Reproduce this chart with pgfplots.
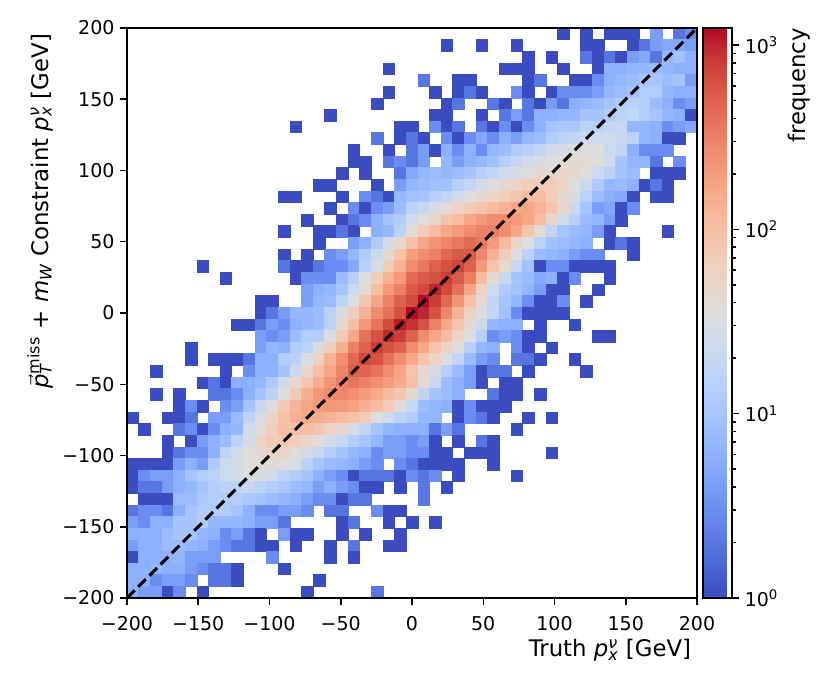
\documentclass[border=0pt]{standalone}
\usepackage{pgfplots}
\pgfplotsset{compat=1.18}
\usepackage{pgfplotstable}
\usepackage{fontspec}
\setmainfont{DejaVu Sans}
\pgfplotsset{colormap={coolwarm}{rgb255=(59,76,192) rgb255=(68,90,204) rgb255=(77,104,215) rgb255=(87,117,225) rgb255=(98,130,234) rgb255=(108,142,241) rgb255=(119,154,247) rgb255=(130,165,251) rgb255=(141,176,254) rgb255=(152,185,255) rgb255=(163,194,255) rgb255=(174,201,253) rgb255=(184,208,249) rgb255=(194,213,244) rgb255=(204,217,238) rgb255=(213,219,230) rgb255=(221,221,221) rgb255=(229,216,209) rgb255=(236,211,197) rgb255=(241,204,185) rgb255=(245,196,173) rgb255=(247,187,160) rgb255=(247,177,148) rgb255=(247,166,135) rgb255=(244,154,123) rgb255=(241,141,111) rgb255=(236,127,99) rgb255=(229,112,88) rgb255=(222,96,77) rgb255=(213,80,66) rgb255=(203,62,56) rgb255=(192,40,47) rgb255=(180,4,38)}}

% 2D histogram counts: 49 rows (top y bin first) x 49 columns (left x bin first), bin width 400/49 GeV
\pgfplotstableread{
c0 c1 c2 c3 c4 c5 c6 c7 c8 c9 c10 c11 c12 c13 c14 c15 c16 c17 c18 c19 c20 c21 c22 c23 c24 c25 c26 c27 c28 c29 c30 c31 c32 c33 c34 c35 c36 c37 c38 c39 c40 c41 c42 c43 c44 c45 c46 c47 c48
0 0 0 0 0 0 0 0 0 0  0 0 0 0 0 0 0 0 0 0  0 0 0 0 0 0 0 0 0 0  0 0 0 0 0 0 0 1 0 1  0 1 1 1 0 4 0 2 3
0 0 0 0 0 0 0 0 0 0  0 0 0 0 0 0 0 0 0 0  0 0 0 0 0 0 0 1 0 0  1 0 0 1 0 0 0 0 0 1  1 0 0 1 2 4 5 5 4
0 0 0 0 0 0 0 0 0 0  0 0 0 0 0 0 0 0 0 0  0 0 0 0 0 0 0 0 0 0  0 0 0 0 1 0 1 0 0 2  1 2 1 4 5 2 7 9 6
0 0 0 0 0 0 0 0 0 0  0 0 0 0 0 0 0 0 0 0  0 0 1 0 0 0 0 0 0 0  0 0 1 1 1 0 0 1 0 0  1 6 6 7 7 8 7 6 6
0 0 0 0 0 0 0 0 0 0  0 0 0 0 0 0 0 0 0 0  0 0 0 0 0 2 0 0 1 1  0 0 0 0 1 2 0 0 1 1  3 6 7 8 10 10 8 10 4
0 0 0 0 0 0 0 0 0 0  0 0 0 0 0 0 0 0 0 0  0 0 1 0 0 0 1 0 1 2  1 0 0 3 1 0 1 3 3 3  4 7 8 10 13 13 7 6 6
0 0 0 0 0 0 0 0 0 0  0 0 0 0 0 0 0 0 0 0  0 1 0 0 0 0 0 1 2 0  0 2 1 0 2 1 4 2 6 7  8 10 13 15 13 8 6 3 4
0 0 0 0 0 0 0 0 0 0  0 0 0 0 0 0 0 1 0 0  0 0 0 0 0 0 1 1 0 0  1 0 2 4 2 6 6 7 7 10  10 13 15 18 13 10 7 6 1
0 0 0 0 0 0 0 0 0 0  0 0 0 0 1 0 0 0 0 0  0 0 0 1 1 0 3 1 2 0  2 1 3 1 3 6 10 11 11 15  15 18 20 7 7 6 3 4 5
0 0 0 0 0 0 0 0 0 0  0 0 0 0 0 0 0 0 0 0  0 2 0 1 2 1 0 3 1 3  5 3 6 4 7 8 13 15 18 22  23 23 20 15 7 6 1 1 0
0 0 0 0 0 0 0 0 0 0  0 0 0 0 0 0 0 0 0 1  0 0 1 0 2 4 1 6 3 6  3 7 8 12 14 18 25 30 35 35  35 22 18 6 3 3 3 0 0
0 0 0 0 0 0 0 0 0 0  0 0 0 0 0 0 0 0 0 1  1 0 2 3 2 4 0 7 4 6  7 9 14 18 25 30 35 40 44 44  35 26 10 7 7 2 0 3 0
0 0 0 0 0 0 0 0 0 0  0 0 0 0 0 0 0 0 1 0  1 0 0 2 5 7 8 7 8 10  14 18 25 30 35 44 50 50 44 35  22 15 10 8 0 1 1 1 0
0 0 0 0 0 0 0 0 0 0  0 0 0 0 0 0 1 1 0 0  0 1 0 4 7 8 9 9 14 18  28 35 44 55 69 69 69 55 35 22  12 7 8 6 1 2 1 0 0
0 0 0 0 0 0 0 0 0 0  0 0 0 1 1 0 0 0 1 0  3 2 1 7 9 10 14 18 25 35  45 55 69 85 107 107 69 44 30 15  8 6 5 1 0 1 1 0 0
0 0 0 0 0 0 0 0 0 0  0 0 0 0 0 0 0 1 0 3  1 3 4 8 15 20 30 40 55 70  85 107 134 166 166 134 85 44 22 10  4 5 1 3 0 0 0 0 0
0 0 0 0 0 0 0 0 0 0  0 0 0 0 0 1 0 0 1 2  3 6 10 13 25 35 55 85 107 166  210 260 260 210 166 107 50 25 15 8  7 4 1 0 0 0 0 0 0
0 0 0 0 0 0 0 0 0 0  0 0 0 1 0 0 1 1 2 1  0 6 7 15 40 69 107 166 210 260  320 320 260 166 85 44 18 10 8 7  4 1 0 0 0 0 1 0 0
0 0 0 0 0 0 0 0 0 0  0 0 0 0 0 0 1 0 0 4  6 12 28 45 95 170 235 290 360 450  360 210 107 55 35 15 9 8 7 6  0 1 2 1 0 0 0 0 0
0 0 0 0 0 0 0 0 0 0  0 0 0 1 0 1 0 3 4 7  12 22 45 90 190 260 320 450 560 560  290 134 69 35 15 8 7 6 4 3  3 0 0 1 0 0 0 0 0
0 0 0 0 0 0 1 0 0 0  0 0 0 2 1 1 2 3 3 5  14 30 70 130 260 360 500 630 720 500  210 85 44 20 9 1 3 3 1 1  1 1 0 0 0 0 0 0 0
0 0 0 0 0 0 0 0 1 0  0 0 0 0 1 3 3 3 8 14  35 69 134 210 450 560 630 800 560 330  107 44 20 10 8 5 6 1 3 0  0 1 0 0 0 0 0 0 0
0 0 0 0 0 0 0 0 0 0  0 0 0 0 0 4 6 7 10 22  44 107 210 320 560 700 1000 700 400 170  60 22 12 9 7 4 1 1 0 0  1 0 0 0 0 0 0 0 0
0 0 0 0 0 0 0 0 0 0  0 1 1 0 0 4 7 8 17 35  85 166 320 500 700 1200 800 450 230 95  42 18 10 7 3 1 1 3 0 1  0 0 0 0 0 0 0 0 0
0 0 0 0 0 0 0 0 0 0  0 1 2 4 7 7 8 15 30 69  134 260 400 630 1200 1000 630 290 134 60  32 18 9 3 1 1 1 1 0 0  0 0 0 0 0 0 0 0 0
0 0 0 0 0 0 0 0 0 1  1 2 4 3 6 7 8 15 45 100  220 380 700 1100 900 630 320 166 85 44  22 7 6 6 0 1 0 0 1 0  0 0 0 0 0 0 0 0 0
0 0 0 0 0 0 0 0 0 0  0 4 3 4 8 13 13 30 75 166  400 630 1000 800 500 260 166 107 55 35  14 3 4 3 1 1 0 0 0 0  1 1 0 0 0 0 0 0 0
0 0 0 0 0 1 0 0 0 0  0 4 7 6 13 15 30 65 140 320  500 800 630 500 260 166 85 55 35 14  7 6 0 3 1 0 1 0 0 0  0 0 0 0 0 0 0 0 0
0 0 0 0 0 1 0 1 1 1  2 6 6 13 14 32 60 130 250 450  680 630 400 260 166 85 55 35 18 8  4 3 0 2 2 1 0 0 1 0  0 0 0 0 0 0 0 0 0
0 0 1 0 0 0 0 0 1 0  3 6 6 10 22 50 100 170 300 520  480 380 260 170 90 45 28 14 8 4  1 2 2 0 1 0 0 0 0 1  0 0 0 0 0 0 0 0 0
0 0 0 0 0 0 1 2 1 6  6 7 12 25 50 80 140 225 320 370  310 250 200 150 100 45 20 8 6 4  1 0 1 1 0 0 0 0 0 0  0 0 0 0 0 0 0 0 0
0 0 1 0 1 0 0 2 2 3  6 10 15 35 75 140 215 275 290 255  205 160 110 80 42 17 10 8 6 0  0 2 1 1 0 1 0 0 0 0  0 0 0 0 0 0 0 0 0
0 0 0 0 1 3 1 0 3 4  10 20 35 75 125 170 210 220 205 180  135 105 70 40 20 8 7 6 1 3  1 1 1 0 0 0 0 0 0 0  0 0 0 0 0 0 0 0 0
1 0 0 1 1 2 0 4 4 8  17 30 55 95 140 150 150 130 110 90  70 35 25 16 13 7 7 0 1 3  2 1 0 0 1 0 1 0 0 0  0 0 0 0 0 0 0 0 0
0 1 0 0 2 3 1 3 6 7  25 37 65 100 100 100 80 58 45 28  18 10 7 6 6 6 2 4 2 0  0 0 0 1 0 0 0 0 0 0  0 0 0 0 0 0 0 0 0
0 0 0 1 0 1 4 6 8 15  28 57 72 72 65 50 37 27 20 13  10 7 4 4 3 4 1 0 1 0  2 1 0 0 0 0 0 0 0 0  0 0 0 0 0 0 0 0 0
0 0 0 1 2 3 3 6 17 25  37 47 55 52 40 25 20 13 10 7  6 3 4 4 3 3 1 1 0 1  1 1 0 0 0 0 1 0 0 0  0 0 0 0 0 0 0 0 0
1 1 1 1 4 6 4 12 22 27  37 37 42 40 30 15 10 8 7 6  4 3 0 3 2 1 1 1 1 0  0 1 0 0 0 0 0 0 0 0  0 0 0 0 0 0 0 0 0
1 3 4 4 6 10 13 15 22 27  32 30 26 15 13 10 6 4 3 1  2 2 2 1 3 2 3 0 1 0  0 0 0 1 0 0 0 0 0 0  0 0 0 0 0 0 0 0 0
1 2 2 4 6 7 10 13 15 17  20 15 13 11 8 7 4 6 4 3  1 1 0 1 0 2 0 1 0 0  0 0 0 0 0 0 0 0 0 0  0 0 0 0 0 0 0 0 0
0 1 1 1 8 8 11 13 13 13  11 10 8 7 6 4 3 3 1 2  2 0 0 0 0 2 0 0 0 0  0 0 0 0 0 0 0 0 0 0  0 0 0 0 0 0 0 0 0
2 3 3 2 6 10 13 13 13 10  6 3 3 4 4 3 0 2 2 0  0 3 1 1 0 0 0 0 0 0  0 0 0 0 0 0 0 0 0 0  0 0 0 0 0 0 0 0 0
4 3 6 6 10 10 13 7 7 7  6 4 4 2 0 0 0 0 1 2  0 0 1 0 1 0 1 0 0 0  0 0 0 0 0 0 0 0 0 0  0 0 0 0 0 0 0 0 0
6 6 6 8 10 10 7 6 3 4  2 1 0 4 1 1 0 0 1 0  1 0 0 1 0 0 0 0 0 0  0 0 0 0 0 0 0 0 0 0  0 0 0 0 0 0 0 0 0
4 6 6 8 8 7 6 4 3 2  2 1 1 0 1 0 0 1 0 2  0 0 1 1 0 0 0 0 0 0  0 0 0 0 0 0 0 0 0 0  0 0 0 0 0 0 0 0 0
1 6 6 6 7 4 4 4 0 0  0 0 3 0 0 0 0 1 0 1  0 0 0 0 0 0 0 0 0 0  0 0 0 0 0 0 0 0 0 0  0 0 0 0 0 0 0 0 0
6 6 7 6 6 4 3 2 2 1  0 0 0 1 0 0 0 0 0 0  0 0 0 0 0 0 0 0 0 0  0 0 0 0 0 0 0 0 0 0  0 0 0 0 0 0 0 0 0
6 6 3 4 4 3 0 2 2 1  0 0 0 0 0 0 1 0 0 0  0 0 0 0 0 0 0 0 0 0  0 0 0 0 0 0 0 0 0 0  0 0 0 0 0 0 0 0 0
6 4 4 1 3 0 1 0 0 0  0 0 0 0 0 1 0 0 0 0  0 2 0 0 0 0 0 0 0 0  0 0 0 0 0 0 0 0 0 0  0 0 0 0 0 0 0 0 0
}\hist

\newcommand{\pnu}{\textit{p}\rlap{\textsuperscript{\itshape ν}}\textsubscript{\itshape x}}

\begin{document}
\begin{tikzpicture}
\path[use as bounding box] (-76.2pt,-56.4pt) rectangle (421.8pt,358.8pt);
\begin{axis}[
  name=main,
  at={(0,0)}, anchor=south west,
  x=0.855pt, y=0.855pt,
  xmin=-200, xmax=200, ymin=-200, ymax=200,
  enlargelimits=false,
  axis on top,
  clip marker paths=true,
  axis line style={line width=0.9pt},
  tick align=outside, tick pos=left,
  major tick length=4pt,
  every tick/.style={black, line width=0.9pt},
  xtick={-200,-150,-100,-50,0,50,100,150,200},
  ytick={-200,-150,-100,-50,0,50,100,150,200},
  xticklabels={−200,−150,−100,−50,0,50,100,150,200},
  yticklabels={−200,−150,−100,−50,0,50,100,150,200},
  tick label style={font=\fontsize{11.4}{13}\selectfont},
  xticklabel style={yshift=-3.5pt},
  xlabel={Truth \pnu\ [GeV]},
  ylabel={$\vec{\mbox{\itshape p}}$\rlap{\textsubscript{\itshape T}}\textsuperscript{miss} + \textit{m}\textsubscript{\itshape W} Constraint \pnu\ [GeV]},
  label style={font=\fontsize{13.7}{16}\selectfont},
  xlabel style={at={(rel axis cs:1,-0.1035)}, anchor=base east},
  ylabel style={at={(rel axis cs:-0.1526,1)}, anchor=east},
  colormap name=coolwarm,
  point meta min=0, point meta max=3.092,
  colorbar,
  colorbar style={
    at={(parent axis.north east)}, anchor=north west, xshift=-4.8pt,
    width=17.4pt, height=342pt, scale only axis,
    ytick={0,1,2,3},
    yticklabels={10\textsuperscript{0},10\textsuperscript{1},10\textsuperscript{2},10\textsuperscript{3}},
    minor ytick={0.30103,0.47712,0.60206,0.69897,0.77815,0.84510,0.90309,0.95424,1.30103,1.47712,1.60206,1.69897,1.77815,1.84510,1.90309,1.95424,2.30103,2.47712,2.60206,2.69897,2.77815,2.84510,2.90309,2.95424},
    ytick pos=right, yticklabel pos=right,
    tick align=outside, major tick length=4pt, minor tick length=2.3pt,
    every tick/.style={black, line width=0.9pt},
    axis line style={line width=0.9pt},
    tick label style={font=\fontsize{11.4}{13}\selectfont},
  },
]
\pgfplotsinvokeforeach{0,...,48}{
  \addplot[scatter, only marks, mark=square*, mark size=3.5pt,
    mark options={line width=0.3pt},
    scatter/use mapped color={draw=mapped color, fill=mapped color},
    point meta=explicit, unbounded coords=discard]
    table[x expr={-200+(#1+0.5)*400/49},
          y expr={(\thisrow{c#1}>0) ? (200-(\coordindex+0.5)*400/49) : nan},
          meta expr={log10(max(\thisrow{c#1},1))}] {\hist};
}
\addplot[black, line width=1.9pt, dash pattern=on 6.5pt off 3pt] coordinates {(-200,-200) (200,200)};
\end{axis}
\node[rotate=90, anchor=east, font=\fontsize{13.7}{16}\selectfont, inner sep=0pt] at ([xshift=61.2pt]main.north east) {frequency};
\end{tikzpicture}
\end{document}
